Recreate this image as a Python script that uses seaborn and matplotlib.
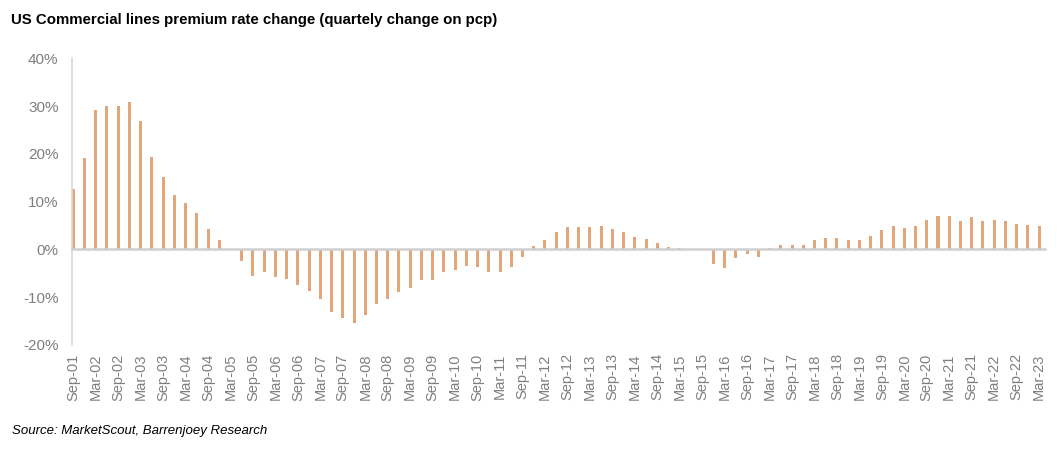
import numpy as np
import pandas as pd
import matplotlib
matplotlib.use("Agg")
import matplotlib.pyplot as plt
import seaborn as sns

# Quarterly periods Sep-01 .. Mar-23
quarters = [d.strftime("%b-%y") for d in pd.date_range("2001-09-30", "2023-03-31", freq="QE")]

# Premium rate change, %
values = [
    12.6, 19.1, 29.1, 30.1, 30.0, 30.9, 26.9, 19.4, 15.1, 11.4,
    9.8, 7.6, 4.3, 2.0, 0.0, -2.4, -5.5, -4.8, -5.8, -6.2,
    -7.5, -8.7, -10.3, -13.1, -14.3, -15.5, -13.7, -11.5, -10.3, -9.0,
    -8.0, -6.4, -6.4, -4.7, -4.3, -3.4, -3.7, -4.7, -4.7, -3.7,
    -1.5, 0.7, 2.0, 3.6, 4.7, 4.7, 4.7, 5.0, 4.3, 3.6,
    2.6, 2.2, 1.3, 0.6, 0.3, 0.0, 0.0, -3.1, -3.8, -1.7,
    -1.0, -1.5, 0.2, 1.0, 1.0, 1.0, 2.0, 2.4, 2.4, 2.0,
    2.0, 2.9, 4.0, 5.0, 4.4, 4.8, 6.2, 7.1, 7.0, 5.9,
    6.8, 5.9, 6.1, 5.9, 5.4, 5.2, 5.0,
]

title = "US Commercial lines premium rate change (quartely change on pcp)"
source = "Source: MarketScout, Barrenjoey Research"
yticks = [-20, -10, 0, 10, 20, 30, 40]

df = pd.DataFrame({"quarter": quarters, "value": values})

sns.set_theme(style="white")
plt.rcParams["font.family"] = ["Liberation Sans", "DejaVu Sans"]

W, H = 1057, 449
fig = plt.figure(figsize=(W / 100, H / 100), dpi=100)
ax = fig.add_axes([71.6 / W, 1 - 345 / H, (1044.7 - 71.6) / W, (345 - 58.3) / H])

sns.barplot(data=df, x="quarter", y="value", color="#E3A678", width=0.27,
            saturation=1, ax=ax, edgecolor="none")

ax.set_xlim(-0.15, len(values) - 0.5)
ax.set_ylim(-20, 40)
ax.set_yticks(yticks)
ax.set_yticklabels([f"{t}%" for t in yticks])
ax.tick_params(axis="y", length=0, pad=9.4, labelsize=11, labelcolor="#7F7F7F")
ax.set_xlabel("")
ax.set_ylabel("")

for s in ["top", "right"]:
    ax.spines[s].set_visible(False)
ax.spines["left"].set_color("#D9D9D9")
ax.spines["left"].set_linewidth(1.2)
ax.spines["bottom"].set_position(("data", 0))
ax.spines["bottom"].set_color("#D0D0D0")
ax.spines["bottom"].set_linewidth(1.8)
ax.set_xticks(range(len(values)))
ax.tick_params(axis="x", length=4, width=1, color="#D0D0D0", labelbottom=False)

sec = ax.secondary_xaxis("bottom")
sec.set_xticks(range(0, len(values), 2))
sec.set_xticklabels(quarters[::2], rotation=90, fontsize=10.5, color="#7F7F7F")
sec.tick_params(length=0, pad=6)
sec.spines["bottom"].set_visible(False)

fig.text(11 / W, 1 - 20 / H, title, fontsize=10.8, fontweight="bold", color="#000000",
         ha="left", va="center")
fig.text(12 / W, 1 - 431 / H, source, fontsize=9.5, style="italic", color="#000000",
         ha="left", va="center")

fig.savefig("out.png", dpi=100)
